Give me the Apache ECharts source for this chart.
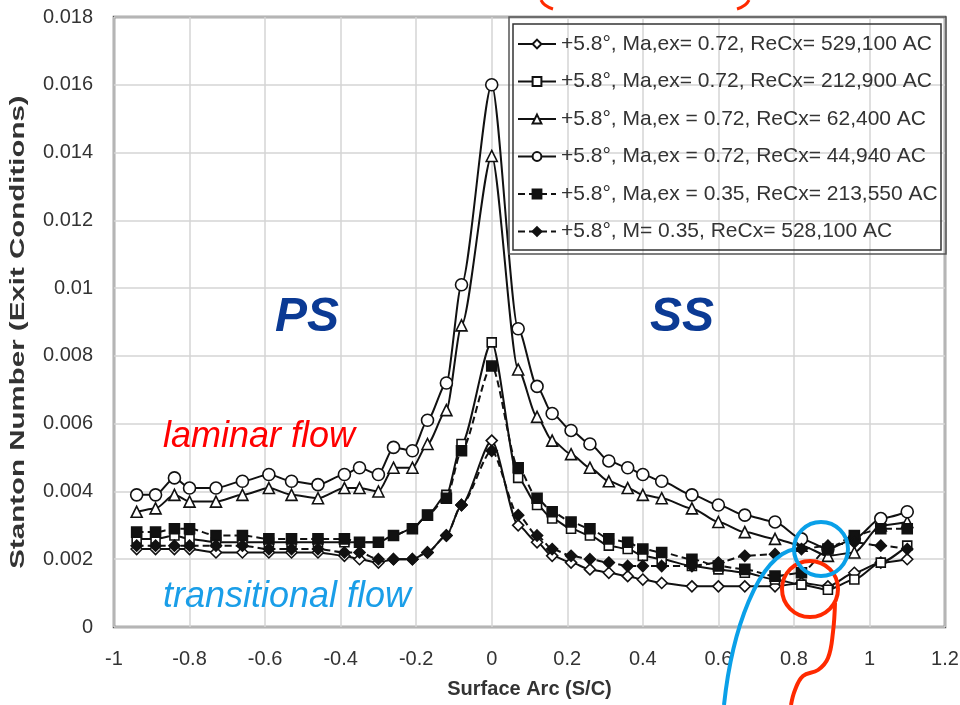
<!DOCTYPE html>
<html><head><meta charset="utf-8">
<script src="https://cdn.jsdelivr.net/npm/echarts@6/dist/echarts.min.js"></script>
<style>html,body{margin:0;padding:0;background:#fff}#c{width:960px;height:705px}</style>
</head><body><div id="c"></div>
<script>
// Surface arc positions (S/C), pressure side (negative) to suction side (positive)
const surfaceArc = [-0.94,-0.89,-0.84,-0.80,-0.73,-0.66,-0.59,-0.53,-0.46,-0.39,-0.35,-0.30,-0.26,-0.21,-0.17,-0.12,-0.08,0,
  0.07,0.12,0.16,0.21,0.26,0.31,0.36,0.40,0.45,0.53,0.60,0.67,0.75,0.82,0.89,0.96,1.03,1.10];

const seriesNames = [
  '+5.8°, Ma,ex= 0.72, ReCx= 529,100 AC',
  '+5.8°, Ma,ex= 0.72, ReCx= 212,900 AC',
  '+5.8°, Ma,ex = 0.72, ReCx= 62,400 AC',
  '+5.8°, Ma,ex = 0.72, ReCx= 44,940 AC',
  '+5.8°, Ma,ex = 0.35, ReCx= 213,550 AC',
  '+5.8°, M= 0.35, ReCx= 528,100 AC'
];

const st_072_529100 = [0.0023,0.0023,0.0023,0.0023,0.0022,0.0022,0.0022,0.0022,0.0022,0.0021,0.0020,0.0019,0.0020,0.0020,0.0022,0.0027,0.0036,0.0055,
  0.0030,0.0025,0.0021,0.0019,0.0017,0.0016,0.0015,0.0014,0.0013,0.0012,0.0012,0.0012,0.0012,0.0013,0.0012,0.0016,0.0019,0.0020];
const st_072_212900 = [0.0026,0.0026,0.0027,0.0026,0.0025,0.0025,0.0025,0.0025,0.0025,0.0025,0.0025,0.0025,0.0027,0.0029,0.0033,0.0039,0.0054,0.0084,
  0.0044,0.0036,0.0032,0.0029,0.0027,0.0024,0.0023,0.0021,0.0020,0.0018,0.0017,0.0016,0.0014,0.00125,0.0011,0.0014,0.0019,0.0024];
const st_072_62400 = [0.0034,0.0035,0.0039,0.0037,0.0037,0.0039,0.0041,0.0039,0.0038,0.0041,0.0041,0.0040,0.0047,0.0047,0.0054,0.0064,0.0089,0.0139,
  0.0076,0.0062,0.0055,0.0051,0.0047,0.0043,0.0041,0.0039,0.0038,0.0035,0.0031,0.0028,0.0026,0.0024,0.0021,0.0022,0.0030,0.0031];
const st_072_44940 = [0.0039,0.0039,0.0044,0.0041,0.0041,0.0043,0.0045,0.0043,0.0042,0.0045,0.0047,0.0045,0.0053,0.0052,0.0061,0.0072,0.0101,0.0160,
  0.0088,0.0071,0.0063,0.0058,0.0054,0.0049,0.0047,0.0045,0.0043,0.0039,0.0036,0.0033,0.0031,0.0026,0.0023,0.0026,0.0032,0.0034];
const st_035_213550 = [0.0028,0.0028,0.0029,0.0029,0.0027,0.0027,0.0026,0.0026,0.0026,0.0026,0.0025,0.0025,0.0027,0.0029,0.0033,0.0038,0.0052,0.0077,
  0.0047,0.0038,0.0034,0.0031,0.0029,0.0026,0.0025,0.0023,0.0022,0.0020,0.0018,0.0017,0.0015,0.0016,0.0023,0.0027,0.0029,0.0029];
const st_035_528100 = [0.0024,0.0024,0.0024,0.0024,0.0024,0.0024,0.0023,0.0023,0.0023,0.0022,0.0022,0.0020,0.0020,0.0020,0.0022,0.0027,0.0036,0.0052,
  0.0033,0.0027,0.0023,0.0021,0.0020,0.0019,0.0018,0.0018,0.0018,0.0018,0.0019,0.0021,0.00215,0.0023,0.0024,0.0025,0.0024,0.0023];

const allValues = [st_072_529100, st_072_212900, st_072_62400, st_072_44940, st_035_213550, st_035_528100];
const symbols = ['diamond','rect','triangle','circle','rect','diamond'];
const symbolSizes = [11,9,11,12,10,11];
const filled = [false,false,false,false,true,true];
const dashed = [false,false,false,false,true,true];

const chart = echarts.init(document.getElementById('c'), null, {renderer:'canvas'});
const baseFont = "'Liberation Sans',Arial,sans-serif";

const series = allValues.map((vals, i) => ({
  name: seriesNames[i],
  type: 'line',
  data: surfaceArc.map((x, j) => [x, vals[j]]),
  smooth: 0.25,
  smoothMonotone: 'x',
  symbol: symbols[i],
  symbolSize: symbolSizes[i],
  showAllSymbol: true,
  lineStyle: {color:'#111', width:2, type: dashed[i] ? [7,4] : 'solid'},
  itemStyle: {color: filled[i] ? '#111' : '#fff', borderColor:'#111', borderWidth:1.6},
  emphasis: {disabled:true},
  z: 2 + i
}));

const option = {
  animation: false,
  backgroundColor: '#fff',
  grid: {left:114, right:15, top:17, bottom:78, containLabel:false, outerBoundsMode:'none',
    show:true, borderColor:'#5a5a5a', borderWidth:2.5, backgroundColor:'transparent'},
  xAxis: {
    type:'value', min:-1, max:1.2, interval:0.2,
    name:'Surface Arc (S/C)', nameLocation:'middle', nameGap:52,
    nameTextStyle:{fontFamily:baseFont, fontWeight:'bold', fontSize:20, color:'#333'},
    axisLine:{show:false}, axisTick:{show:false},
    axisLabel:{fontFamily:baseFont, fontSize:20, color:'#333', margin:22,
      formatter: v => String(Math.round(v*10)/10)},
    splitLine:{show:true, lineStyle:{color:'#d4d4d4', width:1.5}}
  },
  yAxis: {
    type:'value', min:0, max:0.018, interval:0.002,
    name:'', 
    axisLine:{show:false}, axisTick:{show:false},
    axisLabel:{fontFamily:baseFont, fontSize:20, color:'#333', margin:21,
      formatter: v => String(Math.round(v*1000)/1000)},
    splitLine:{show:true, lineStyle:{color:'#d4d4d4', width:1.5}}
  },
  legend: {
    orient:'vertical', left:517, top:32, itemGap:13.5, itemWidth:38, itemHeight:11,
    padding:0,
    data: seriesNames,
    textStyle:{fontFamily:baseFont, fontSize:21, color:'#333', lineHeight:24},
    selectedMode:false
  },
  graphic: [
    {type:'text', z:60, x:18, y:332, rotation:Math.PI/2, scaleX:1.34, scaleY:0.95,
      style:{text:'Stanton Number (Exit Conditions)', x:0, y:0, align:'center', verticalAlign:'middle',
        font:"bold 22px 'Liberation Sans',Arial,sans-serif", fill:'#333'}},
    {type:'rect', z:50, shape:{x:513, y:24, width:428, height:226}, style:{fill:'none', stroke:'#333', lineWidth:1.5}},
    {type:'rect', z:50, shape:{x:509, y:17, width:437, height:237}, style:{fill:'none', stroke:'#555', lineWidth:1.5}},
    {type:'text', z:60, style:{text:'PS', x:307, y:318, align:'center', verticalAlign:'middle', font:"italic bold 48px 'Liberation Sans',Arial,sans-serif", fill:'#0b3a94'}},
    {type:'text', z:60, style:{text:'SS', x:682, y:318, align:'center', verticalAlign:'middle', font:"italic bold 48px 'Liberation Sans',Arial,sans-serif", fill:'#0b3a94'}},
    {type:'text', z:60, style:{text:'laminar flow', x:163, y:437, align:'left', verticalAlign:'middle', font:"italic 36px 'Liberation Sans',Arial,sans-serif", fill:'#ff0000'}},
    {type:'text', z:60, style:{text:'transitional flow', x:163, y:597, align:'left', verticalAlign:'middle', font:"italic 36px 'Liberation Sans',Arial,sans-serif", fill:'#1a9ee8'}},
    {type:'polyline', z:60, shape:{points:[[541,0],[545,5],[553,9]], smooth:0.5}, style:{fill:'none', stroke:'#ff2a00', lineWidth:3}},
    {type:'polyline', z:60, shape:{points:[[749,0],[745,5],[737,9]], smooth:0.5}, style:{fill:'none', stroke:'#ff2a00', lineWidth:3}},
    {type:'circle', z:70, shape:{cx:810, cy:589, r:28}, style:{fill:'none', stroke:'#ff2a00', lineWidth:4}},
    {type:'polyline', z:70, shape:{points:[[835,603],[833,632],[828,658],[818,670],[803,676],[795,690],[791,705]], smooth:0.4}, style:{fill:'none', stroke:'#ff2a00', lineWidth:4}},
    {type:'circle', z:80, shape:{cx:821, cy:549, r:27}, style:{fill:'none', stroke:'#0aa0e8', lineWidth:4}},
    {type:'bezierCurve', z:80, shape:{x1:795, y1:549, cpx1:758, cpy1:556, cpx2:732, cpy2:630, x2:724, y2:705}, style:{fill:'none', stroke:'#0aa0e8', lineWidth:4}}
  ],
  series: series
};
chart.setOption(option);
</script>
</body></html>
